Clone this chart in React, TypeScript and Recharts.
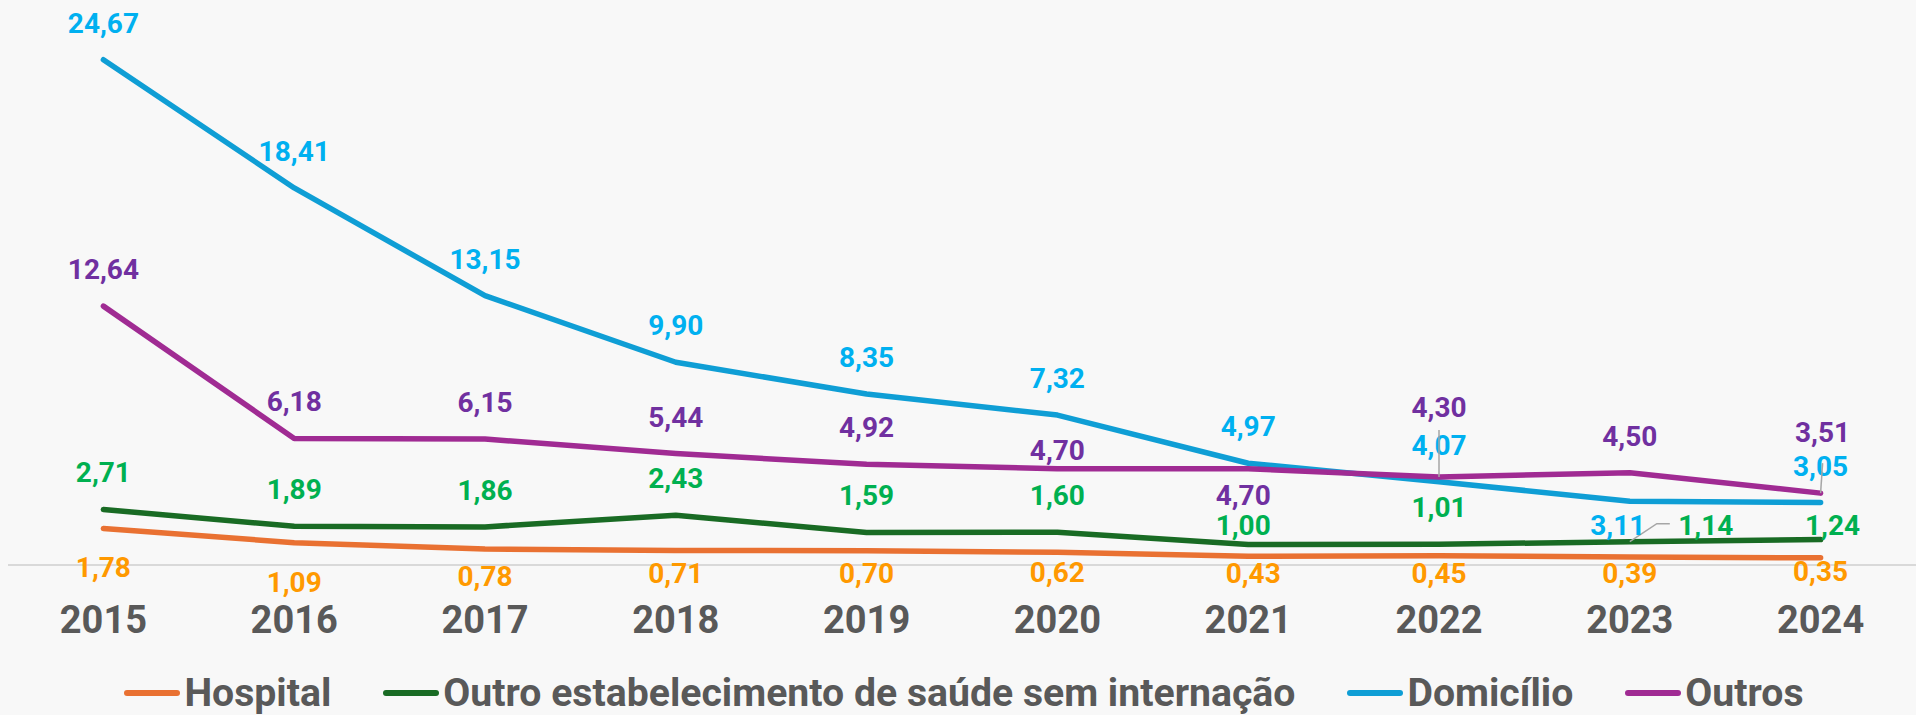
import { LineChart, Line, XAxis, YAxis, Legend, LabelList } from 'recharts';

const years = ['2015', '2016', '2017', '2018', '2019', '2020', '2021', '2022', '2023', '2024'];
const hospital = [1.78, 1.09, 0.78, 0.71, 0.7, 0.62, 0.43, 0.45, 0.39, 0.35];
const outroEstab = [2.71, 1.89, 1.86, 2.43, 1.59, 1.6, 1.0, 1.01, 1.14, 1.24];
const domicilio = [24.67, 18.41, 13.15, 9.9, 8.35, 7.32, 4.97, 4.07, 3.11, 3.05];
const outros = [12.64, 6.18, 6.15, 5.44, 4.92, 4.7, 4.7, 4.3, 4.5, 3.51];

const data = years.map((year, i) => ({
  year,
  hospital: hospital[i],
  outroEstab: outroEstab[i],
  domicilio: domicilio[i],
  outros: outros[i],
}));

const FONT = 'Roboto, "Noto Sans", sans-serif';
const GRAY = '#595959';

type Pt = [number, number];

interface Series {
  key: string;
  name: string;
  stroke: string;
  labelColor: string;
  // label centre offset from the point, default is above
  offsets: Record<number, Pt>;
  leaders?: Record<number, Pt[]>;
}

const series: Series[] = [
  {
    key: 'hospital',
    name: 'Hospital',
    stroke: '#E97132',
    labelColor: '#FF9900',
    offsets: {
      0: [0, 38], 1: [0, 39], 2: [0, 27], 3: [0, 23], 4: [0, 22],
      5: [0, 20], 6: [5, 17], 7: [0, 17], 8: [0, 16], 9: [0, 13],
    },
  },
  {
    key: 'outroEstab',
    name: 'Outro estabelecimento de saúde sem internação',
    stroke: '#196B24',
    labelColor: '#00B050',
    offsets: { 6: [-5, -20], 8: [76, -17], 9: [12, -15] },
    leaders: { 8: [[0, 0], [27, -18], [40, -18]] },
  },
  {
    key: 'domicilio',
    name: 'Domicílio',
    stroke: '#0F9ED5',
    labelColor: '#00B0F0',
    offsets: { 8: [-12, 24] },
  },
  {
    key: 'outros',
    name: 'Outros',
    stroke: '#A02B93',
    labelColor: '#7030A0',
    offsets: { 5: [0, -19], 6: [-5, 26], 7: [0, -70], 9: [2, -61] },
    leaders: { 7: [[0, -47], [0, 0]], 9: [[2, -30], [0, 0]] },
  },
];

const fmt = (v: number) => Number(v).toFixed(2).replace('.', ',');

const makeLabel = (s: Series) => (props: any) => {
  const { x, y, value, index } = props;
  if (x == null || y == null) return null;
  const [dx, dy] = s.offsets[index] ?? [0, -37];
  const leader = s.leaders?.[index];
  return (
    <g>
      {leader && (
        <polyline
          points={leader.map(([a, b]) => `${x + a},${y + b}`).join(' ')}
          fill="none"
          stroke="#A6A6A6"
          strokeWidth={1.5}
        />
      )}
      <text
        x={x + dx}
        y={y + dy + 10}
        textAnchor="middle"
        fill={s.labelColor}
        fontSize={28}
        fontWeight={700}
        fontFamily={FONT}
      >
        {fmt(value)}
      </text>
    </g>
  );
};

const renderLegend = () => (
  <div
    style={{
      display: 'flex',
      justifyContent: 'center',
      gap: 52,
      paddingLeft: 12,
      lineHeight: '44px',
      fontFamily: FONT,
      fontWeight: 700,
      fontSize: 39.2,
      color: GRAY,
    }}
  >
    {series.map(s => (
      <div key={s.key} style={{ display: 'flex', alignItems: 'center', gap: 4 }}>
        <svg width={56} height={8}>
          <line x1={3} y1={4} x2={53} y2={4} stroke={s.stroke} strokeWidth={6} strokeLinecap="round" />
        </svg>
        <span>{s.name}</span>
      </div>
    ))}
  </div>
);

export default function App() {
  return (
    <div style={{ position: 'absolute', left: 0, top: 0, width: 1916, height: 715, background: '#F8F8F8' }}>
      <LineChart width={1916} height={715} data={data} margin={{ top: 53, right: 0, left: 8, bottom: 100 }}>
        <XAxis
          dataKey="year"
          height={50}
          interval={0}
          padding={{ left: 95.4, right: 95.4 }}
          axisLine={{ stroke: '#D9D9D9', strokeWidth: 2 }}
          tickLine={false}
          tickMargin={35}
          tick={{ fill: GRAY, fontSize: 38, fontWeight: 700, fontFamily: FONT }}
        />
        <YAxis hide domain={[0, 25]} />
        <Legend
          verticalAlign="middle"
          layout="horizontal"
          align="center"
          content={renderLegend}
          wrapperStyle={{ top: 671, left: 0, width: 1916 }}
        />
        {series.map(s => (
          <Line
            key={s.key}
            type="linear"
            dataKey={s.key}
            name={s.name}
            stroke={s.stroke}
            strokeWidth={5.5}
            strokeLinecap="round"
            strokeLinejoin="round"
            dot={false}
            activeDot={false}
            isAnimationActive={false}
          >
            <LabelList dataKey={s.key} content={makeLabel(s)} />
          </Line>
        ))}
      </LineChart>
    </div>
  );
}
